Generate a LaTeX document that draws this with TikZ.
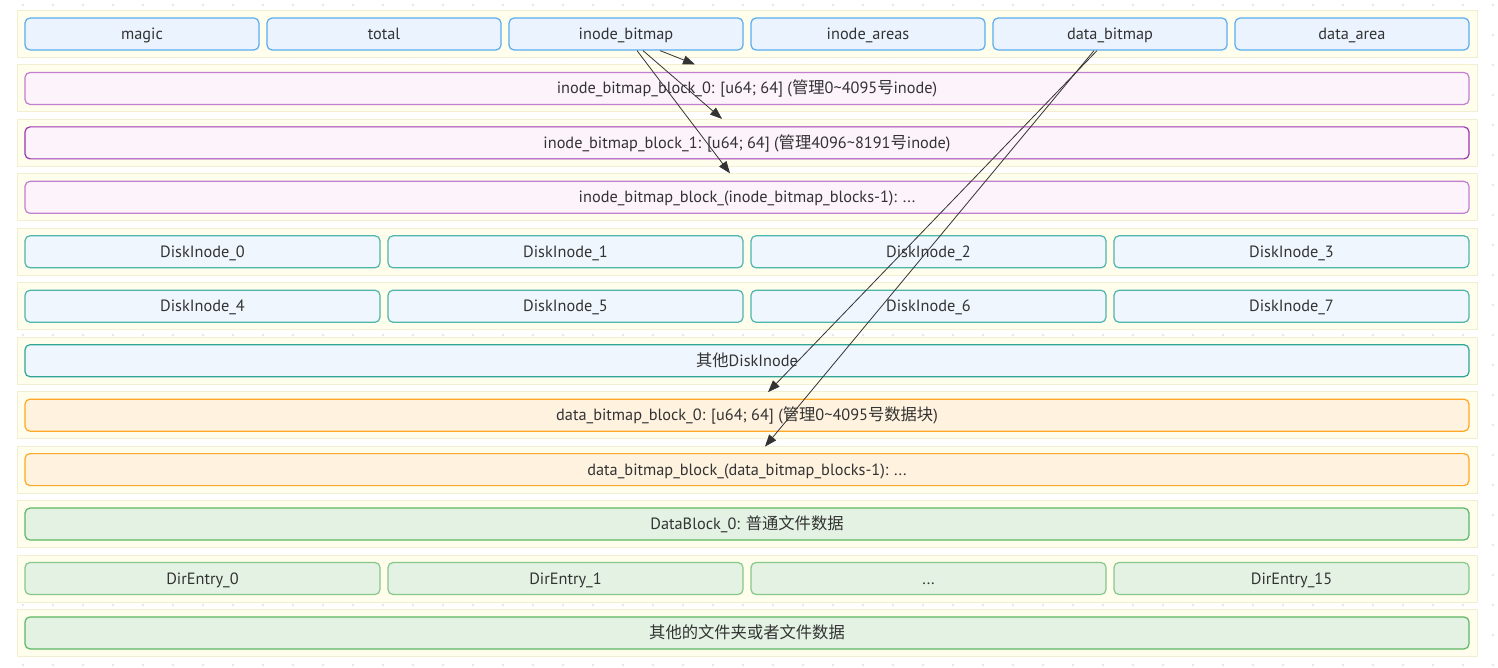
\documentclass[tikz,border=0pt]{standalone}
\usepackage{fontspec}
\setmainfont{PT Sans}
\newfontfamily\zhfont{Noto Sans CJK SC}
\newcommand\zh[1]{{\zhfont #1}}
\usetikzlibrary{arrows.meta}
\definecolor{bandfill}{HTML}{FFFDEB}
\definecolor{bandline}{HTML}{F1EED2}
\definecolor{dotc}{HTML}{E6E6E6}
\definecolor{textc}{HTML}{333333}
\definecolor{bluefill}{HTML}{EBF4FE}
\definecolor{blueline}{HTML}{5AACF0}
\definecolor{pinkfill}{HTML}{FDF3FA}
\definecolor{pinkline}{HTML}{C27ED0}
\definecolor{pinkdark}{HTML}{9C36B0}
\definecolor{inofill}{HTML}{F0F6FE}
\definecolor{inoline}{HTML}{4DB6AC}
\definecolor{inodark}{HTML}{2FA597}
\definecolor{orfill}{HTML}{FFF3E0}
\definecolor{orline}{HTML}{FFA726}
\definecolor{grfill}{HTML}{E4F2E4}
\definecolor{grline}{HTML}{5DB762}
\definecolor{grlight}{HTML}{86C889}
\definecolor{arrc}{HTML}{333333}
\tikzset{
  band/.style={draw=bandline, fill=bandfill, line width=1pt, minimum width=1460pt, minimum height=47pt, inner sep=0pt},
  cell/.style={rounded corners=5pt, line width=1.2pt, minimum height=32pt, inner sep=0pt, text height=13pt, text depth=2pt, text=textc, font=\fontsize{16.3}{19}\selectfont},
  w6/.style={cell, minimum width=234pt},
  w4/.style={cell, minimum width=355pt},
  wfull/.style={cell, minimum width=1444pt},
  sb/.style={draw=blueline, fill=bluefill},
  pk/.style={draw=pinkline, fill=pinkfill},
  pkd/.style={draw=pinkdark, fill=pinkfill},
  ino/.style={draw=inoline, fill=inofill},
  inod/.style={draw=inodark, fill=inofill},
  ora/.style={draw=orline, fill=orfill},
  grn/.style={draw=grline, fill=grfill},
  grl/.style={draw=grlight, fill=grfill},
  arr/.style={draw=arrc, line width=0.8pt, -{Triangle[length=12pt,width=9pt]}}
}
\begin{document}
\begin{tikzpicture}[x=1pt,y=-1pt]
\useasboundingbox (0,0) rectangle (1498,668);
\fill[white] (0,0) rectangle (1498,668);
% dot grid
\foreach \i in {0,...,49} {
  \foreach \j in {0,...,22} {
    \fill[dotc] (23+30*\i, 5+30*\j) circle (1.3pt);
  }
}
% bands
\foreach \k/\y in {1/34,2/88.45,3/142.9,4/197.35,5/251.8,6/306.25,7/360.7,8/415.15,9/469.6,10/524.05,11/578.5,12/632.95} {
  \node[band] (band\k) at (747,\y) {};
}
% row 1: superblock
\node[w6,sb] (magic) at (142,34) {magic};
\node[w6,sb] (total) at (384,34) {total};
\node[w6,sb] (ib) at (626,34) {inode\_bitmap};
\node[w6,sb] (ia) at (868,34) {inode\_areas};
\node[w6,sb] (db) at (1110,34) {data\_bitmap};
\node[w6,sb] (da) at (1352,34) {data\_area};
% inode bitmap blocks
\node[wfull,pk] (ibb0) at (747,88.45) {inode\_bitmap\_block\_0: [u64; 64] (\zh{管理}0\textasciitilde4095\zh{号}inode)};
\node[wfull,pkd] (ibb1) at (747,142.9) {inode\_bitmap\_block\_1: [u64; 64] (\zh{管理}4096\textasciitilde8191\zh{号}inode)};
\node[wfull,pk] (ibbn) at (747,197.35) {inode\_bitmap\_block\_(inode\_bitmap\_blocks-1): .\kern1pt.\kern1pt.};
% disk inodes
\node[w4,ino] (di0) at (202.5,251.8) {DiskInode\_0};
\node[w4,ino] (di1) at (565.5,251.8) {DiskInode\_1};
\node[w4,ino] (di2) at (928.5,251.8) {DiskInode\_2};
\node[w4,ino] (di3) at (1291.5,251.8) {DiskInode\_3};
\node[w4,ino] (di4) at (202.5,306.25) {DiskInode\_4};
\node[w4,ino] (di5) at (565.5,306.25) {DiskInode\_5};
\node[w4,ino] (di6) at (928.5,306.25) {DiskInode\_6};
\node[w4,ino] (di7) at (1291.5,306.25) {DiskInode\_7};
\node[wfull,inod] (dio) at (747,360.7) {\zh{其他}DiskInode};
% data bitmap blocks
\node[wfull,ora] (dbb0) at (747,415.15) {data\_bitmap\_block\_0: [u64; 64] (\zh{管理}0\textasciitilde4095\zh{号数据块})};
\node[wfull,ora] (dbbn) at (747,469.6) {data\_bitmap\_block\_(data\_bitmap\_blocks-1): .\kern1pt.\kern1pt.};
% data blocks
\node[wfull,grn] (dbk0) at (747,524.05) {DataBlock\_0: \zh{普通文件数据}};
\node[w4,grl] (de0) at (202.5,578.5) {DirEntry\_0};
\node[w4,grl] (de1) at (565.5,578.5) {DirEntry\_1};
\node[w4,grl] (dedots) at (928.5,578.5) {.\kern1pt.\kern1pt.};
\node[w4,grl] (de15) at (1291.5,578.5) {DirEntry\_15};
\node[wfull,grn] (dother) at (747,632.95) {\zh{其他的文件夹或者文件数据}};
% arrows
\draw[arr] ([xshift=34pt]ib.south) -- ([xshift=-52pt]band2.north);
\draw[arr] ([xshift=17pt]ib.south) -- ([xshift=-25pt]band3.north);
\draw[arr] ([xshift=11pt]ib.south) -- ([xshift=-17pt]band4.north);
\draw[arr] ([xshift=-13pt]db.south) -- ([xshift=21pt,yshift=-1pt]band8.north);
\draw[arr] ([xshift=-16pt]db.south) -- ([xshift=18pt,yshift=-1pt]band9.north);
\end{tikzpicture}
\end{document}
